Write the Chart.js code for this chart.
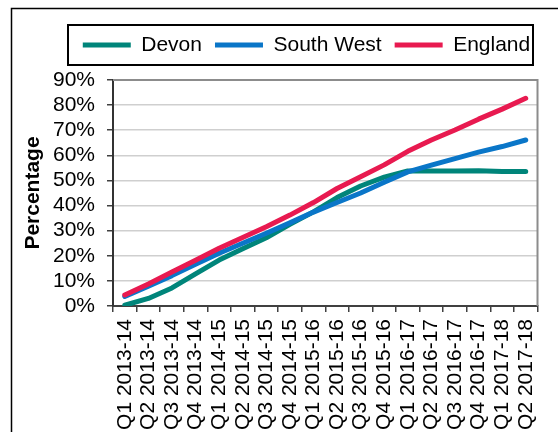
<!DOCTYPE html>
<html>
<head>
<meta charset="utf-8">
<script src="https://cdn.jsdelivr.net/npm/chart.js@4.4.1/dist/chart.umd.min.js"></script>
<style>
  html, body { margin: 0; padding: 0; background: #fff; }
</style>
</head>
<body>
<canvas id="chart" width="558" height="432"></canvas>
<script>
// quarters on the x axis
const quarters = [
    'Q1 2013-14', 'Q2 2013-14', 'Q3 2013-14', 'Q4 2013-14',
    'Q1 2014-15', 'Q2 2014-15', 'Q3 2014-15', 'Q4 2014-15',
    'Q1 2015-16', 'Q2 2015-16', 'Q3 2015-16', 'Q4 2015-16',
    'Q1 2016-17', 'Q2 2016-17', 'Q3 2016-17', 'Q4 2016-17',
    'Q1 2017-18', 'Q2 2017-18'
];

// percentages
const devon = [0.3, 3.0, 7.2, 12.8, 18.3, 22.8, 27.2, 32.5, 37.5, 43.2, 47.8, 51.3, 53.8, 53.8, 53.8, 53.9, 53.6, 53.6];
const southWest = [3.8, 7.9, 12.1, 16.6, 21.0, 25.0, 29.0, 33.1, 37.4, 41.2, 45.0, 49.3, 53.4, 56.1, 58.7, 61.3, 63.5, 66.1];
const england = [4.4, 8.8, 13.5, 18.2, 23.0, 27.3, 31.6, 36.2, 41.2, 46.8, 51.5, 56.2, 61.6, 66.1, 70.1, 74.4, 78.4, 82.7];

// y axis range (percent)
const yMin = 0;
const yMax = 90;
const yStep = 10;

const FONT = "'Liberation Sans', Arial, sans-serif";

function lineSet(label, data, color, order) {
    return {
        label: label,
        data: data,
        borderColor: color,
        backgroundColor: color,
        borderWidth: 5,
        borderCapStyle: 'round',
        borderJoinStyle: 'round',
        pointRadius: 0,
        pointStyle: 'line',
        tension: 0,
        fill: false,
        order: order
    };
}

// legend sits a bit right of centre in the original
const legendShift = {
    id: 'legendShift',
    afterLayout(chart) {
        chart.legend.left += 26;
        chart.legend.right += 26;
    }
};

// outer frame, legend box, top/right plot border
const framePlugin = {
    id: 'frame',
    afterDraw(chart) {
        const ctx = chart.ctx;
        const area = chart.chartArea;
        ctx.save();
        ctx.strokeStyle = '#000';
        ctx.lineWidth = 1.5;
        ctx.strokeRect(11.5, 8.5, 600, 500);

        ctx.lineWidth = 2;
        ctx.strokeRect(68, 25, 465, 40);

        ctx.strokeStyle = '#8c8c8c';
        ctx.lineWidth = 2;
        ctx.beginPath();
        ctx.moveTo(area.left, area.top);
        ctx.lineTo(area.right, area.top);
        ctx.lineTo(area.right, area.bottom);
        ctx.stroke();
        ctx.restore();
    }
};

const ctx = document.getElementById('chart').getContext('2d');
new Chart(ctx, {
    type: 'line',
    data: {
        labels: quarters,
        datasets: [
            lineSet('Devon', devon, '#00857a', 3),
            lineSet('South West', southWest, '#0a76c8', 2),
            lineSet('England', england, '#e81a50', 1)
        ]
    },
    plugins: [legendShift, framePlugin],
    options: {
        responsive: false,
        animation: false,
        layout: {
            padding: {top: 21.5, left: 6, right: 3, bottom: 0}
        },
        plugins: {
            legend: {
                position: 'top',
                weight: 3000,
                labels: {
                    usePointStyle: true,
                    pointStyleWidth: 48,
                    padding: 13,
                    color: '#000',
                    font: {family: FONT, size: 21},
                    sort: (a, b) => a.datasetIndex - b.datasetIndex
                }
            },
            // empty title used as a spacer under the legend
            title: {
                display: true,
                text: '',
                font: {size: 1, lineHeight: 1},
                padding: {top: 13.5, bottom: 0}
            },
            tooltip: {enabled: false}
        },
        scales: {
            x: {
                offset: true,
                grid: {
                    offset: true,
                    drawOnChartArea: false,
                    tickLength: 6,
                    tickColor: '#404040',
                    lineWidth: 1.5
                },
                border: {color: '#404040', width: 2},
                ticks: {
                    autoSkip: false,
                    maxRotation: 90,
                    minRotation: 90,
                    padding: 7,
                    color: '#000',
                    font: {family: FONT, size: 21}
                },
                afterFit(scale) { scale.height = 126; }
            },
            y: {
                min: yMin,
                max: yMax,
                ticks: {
                    stepSize: yStep,
                    autoSkip: false,
                    padding: 12,
                    color: '#000',
                    font: {family: FONT, size: 21},
                    callback: (v) => v + '%'
                },
                grid: {
                    color: '#cfcfcf',
                    lineWidth: 1.5,
                    tickLength: 6,
                    tickColor: '#404040'
                },
                border: {color: '#333', width: 2},
                title: {
                    display: true,
                    text: 'Percentage',
                    color: '#000',
                    font: {family: FONT, size: 21, weight: 'bold'},
                    padding: {top: 15, bottom: 0}
                },
                afterFit(scale) { scale.width = 107; }
            }
        }
    }
});
</script>
</body>
</html>
